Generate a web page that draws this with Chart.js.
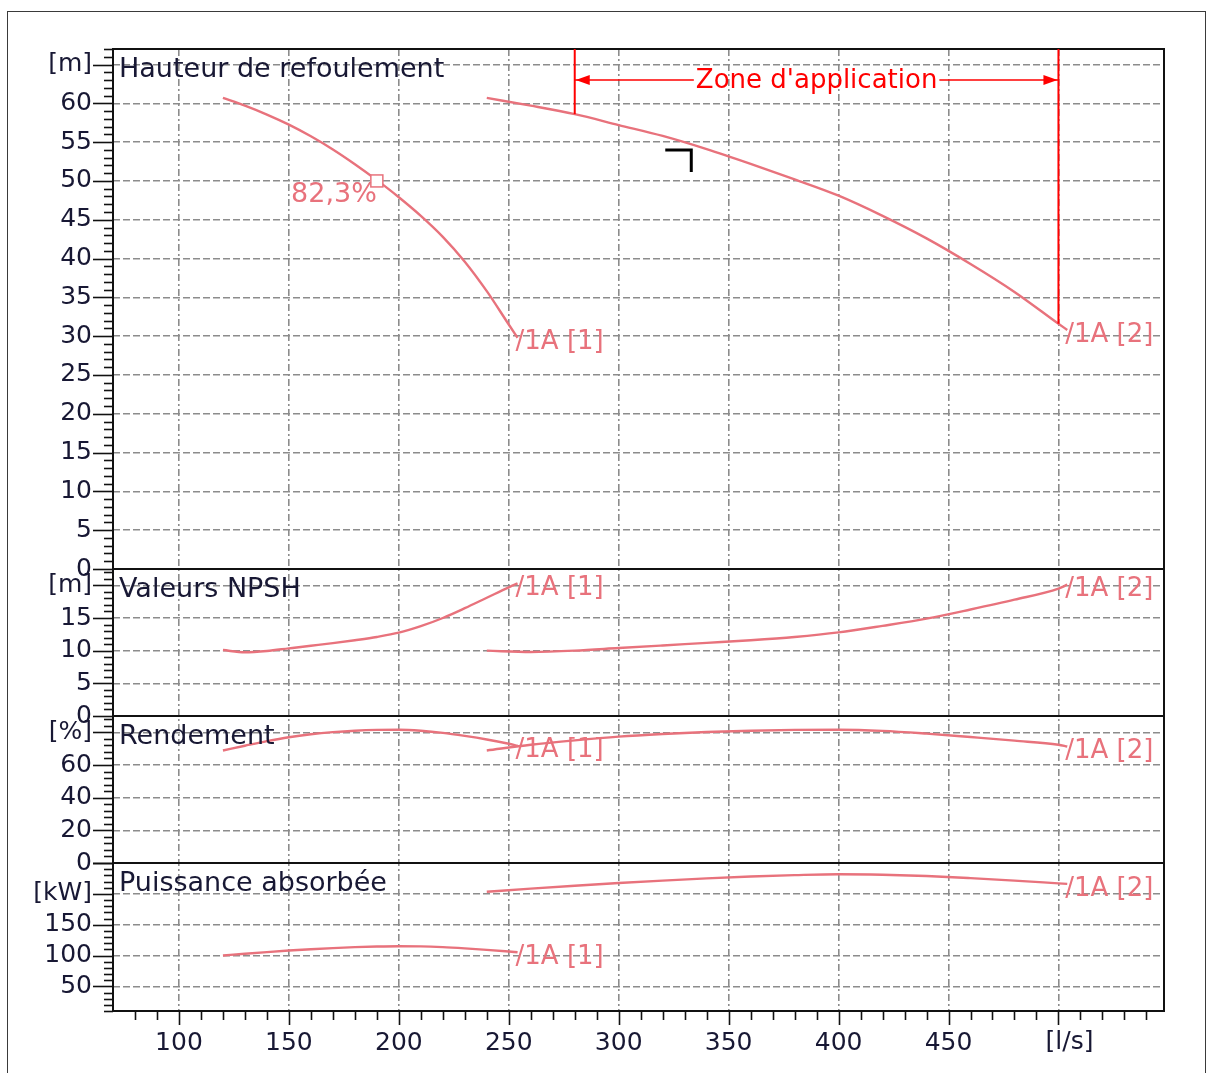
<!DOCTYPE html>
<html>
<head>
<meta charset="utf-8">
<script src="https://cdn.jsdelivr.net/npm/chart.js@4.4.1/dist/chart.umd.min.js"></script>
<style>
  html, body { margin: 0; padding: 0; background: #fff; }
  canvas { display: block; }
</style>
</head>
<body>
<canvas id="pump" width="1214" height="1073"></canvas>
<script>
// debit [l/s] for the two impellers
const q1 = [120, 130, 140, 150, 160, 170, 180, 190, 200, 210, 220, 230, 240, 250, 254];
const q2 = [240, 260, 280, 300, 320, 340, 360, 380, 400, 420, 440, 460, 480, 500, 504];

// hauteur de refoulement [m]
const head1 = [60.7, 59.7, 58.55, 57.25, 55.75, 54.05, 52.15, 50.1, 47.9, 45.5, 42.8, 39.6, 35.8, 31.5, 29.8];
const head2 = [60.7, 59.7, 58.6, 57.2, 55.8, 54.1, 52.2, 50.2, 48.1, 45.5, 42.6, 39.3, 35.7, 31.6, 30.8];

// NPSH [m]
const npsh1 = [10.1, 9.75, 9.95, 10.35, 10.75, 11.15, 11.6, 12.1, 12.75, 13.75, 15.0, 16.5, 18.1, 19.7, 20.3];
const npsh2 = [10.0, 9.8, 10.0, 10.4, 10.8, 11.2, 11.6, 12.1, 12.8, 13.8, 14.9, 16.3, 17.8, 19.5, 20.1];

// rendement [%]
const eff1 = [68.9, 71.8, 74.6, 77.0, 78.8, 80.1, 81.0, 81.5, 81.6, 81.0, 79.7, 77.8, 75.6, 73.0, 71.8];
const eff2 = [68.9, 72.4, 75.1, 77.4, 79.0, 80.2, 81.0, 81.5, 81.6, 80.9, 79.2, 77.1, 74.9, 72.4, 71.3];

// puissance absorbee [kW]
const pow1 = [100, 102.8, 105.5, 108, 110.2, 112, 113.5, 114.5, 115, 114.8, 113.6, 111.6, 109.2, 106.5, 105.3];
const pow2 = [203.3, 208.5, 213.2, 217.5, 221.5, 225.0, 228.0, 230.3, 231.8, 231.0, 228.9, 225.5, 221.5, 217.0, 216.1];

const curveNames = ['/1A [1]', '/1A [2]'];
const xUnit = '[l/s]';
const xUnitAt = 500;
const zoneQ = [280, 500];
const zoneText = "Zone d'application";
const dutyPoint = [190, 50];
const dutyText = '82,3%';
const opPoint = [333, 54];

const panels = [
  { id: 'yH', title: 'Hauteur de refoulement', unit: '[m]', unitAt: 65, min: 0, max: 67, step: 5, minor: 1, h: 520, s1: head1, s2: head2 },
  { id: 'yN', title: 'Valeurs NPSH', unit: '[m]', unitAt: 20, min: 0, max: 22.5, step: 5, minor: 1, h: 147, s1: npsh1, s2: npsh2 },
  { id: 'yE', title: 'Rendement', unit: '[%]', unitAt: 80, min: 0, max: 90, step: 20, minor: 4, h: 147, s1: eff1, s2: eff2 },
  { id: 'yP', title: 'Puissance absorbée', unit: '[kW]', unitAt: 200, min: 10, max: 250, step: 50, minor: 10, h: 148, s1: pow1, s2: pow2 }
];

const curveColor = '#e8727c';
const inkColor = '#181834';
const gridColor = '#8c8c8c';
const font = 'DejaVu Sans';

function pts(xs, ys) {
  return xs.map((x, i) => ({ x: x, y: ys[i] }));
}

function interp(xs, ys, x) {
  for (let i = 1; i < xs.length; i++) {
    if (x <= xs[i]) {
      const t = (x - xs[i - 1]) / (xs[i] - xs[i - 1]);
      return ys[i - 1] + t * (ys[i] - ys[i - 1]);
    }
  }
  return ys[ys.length - 1];
}

const datasets = [];
panels.forEach(p => {
  [[q1, p.s1], [q2, p.s2]].forEach(([xs, ys]) => {
    datasets.push({
      data: pts(xs, ys),
      yAxisID: p.id,
      borderColor: curveColor,
      borderWidth: 2.4,
      pointRadius: 0,
      cubicInterpolationMode: 'monotone',
      fill: false
    });
  });
});

const scales = {
  x: {
    type: 'linear',
    min: 70,
    max: 548,
    afterFit: s => { s.height = 62; },
    ticks: {
      stepSize: 50,
      includeBounds: false,
      autoSkip: false,
      maxRotation: 0,
      padding: 17,
      color: inkColor,
      font: { family: font, size: 25 },
      callback: v => v === xUnitAt ? '' : String(v)
    },
    grid: { color: gridColor, lineWidth: 1.6, drawTicks: false },
    border: { display: false, dash: [7, 3, 2, 3] }
  }
};

panels.forEach((p, i) => {
  scales[p.id] = {
    type: 'linear',
    position: 'left',
    stack: 'panels',
    stackWeight: p.h,
    weight: panels.length - i,
    min: p.min,
    max: p.max,
    afterFit: s => { s.width = 113; },
    ticks: {
      stepSize: p.step,
      includeBounds: false,
      autoSkip: false,
      padding: 21,
      color: inkColor,
      font: { family: font, size: 25 },
      callback: v => v === p.unitAt ? p.unit : (v > p.unitAt ? '' : String(v))
    },
    grid: { color: gridColor, lineWidth: 1.6, drawTicks: false },
    border: { display: false, dash: [7, 3] }
  };
});

function seg(ctx, x1, y1, x2, y2) {
  ctx.beginPath();
  ctx.moveTo(x1, y1);
  ctx.lineTo(x2, y2);
  ctx.stroke();
}

const decor = {
  id: 'decor',
  afterDraw(chart) {
    const ctx = chart.ctx;
    const a = chart.chartArea;
    const sx = chart.scales.x;
    const sH = chart.scales.yH;
    ctx.save();

    // outer frame
    ctx.strokeStyle = '#3a3a3a';
    ctx.lineWidth = 1;
    ctx.strokeRect(7.5, 11.5, 1198, 1100);

    // panel frames
    ctx.strokeStyle = '#111';
    ctx.lineWidth = 2;
    ctx.strokeRect(a.left, a.top, a.right - a.left, a.bottom - a.top);
    panels.forEach(p => {
      const s = chart.scales[p.id];
      seg(ctx, a.left, s.bottom, a.right, s.bottom);
    });

    // y ticks, major and minor
    ctx.lineWidth = 1.6;
    panels.forEach(p => {
      const s = chart.scales[p.id];
      const n = Math.floor((p.max - p.min) / p.minor + 1e-6);
      for (let k = 0; k <= n; k++) {
        const v = p.min + k * p.minor;
        const y = Math.round(s.getPixelForValue(v)) + 0.5;
        const r = v / p.step;
        const major = Math.abs(r - Math.round(r)) < 1e-6;
        seg(ctx, a.left - (major ? 20 : 9), y, a.left, y);
      }
    });

    // x ticks
    for (let v = 80; v <= 540; v += 10) {
      const x = Math.round(sx.getPixelForValue(v)) + 0.5;
      seg(ctx, x, a.bottom, x, a.bottom + (v % 50 === 0 ? 14 : 9));
    }

    // x unit in place of the last label
    ctx.fillStyle = inkColor;
    ctx.font = '25px "' + font + '"';
    ctx.textAlign = 'center';
    ctx.textBaseline = 'middle';
    ctx.fillText(xUnit, sx.getPixelForValue(xUnitAt) + 11, a.bottom + 31);

    // panel titles
    ctx.font = '27px "' + font + '"';
    ctx.textAlign = 'left';
    panels.forEach(p => {
      const s = chart.scales[p.id];
      ctx.fillText(p.title, a.left + 6, s.top + 21);
    });

    // curve end labels
    ctx.fillStyle = curveColor;
    ctx.font = '26px "' + font + '"';
    panels.forEach(p => {
      const s = chart.scales[p.id];
      [[q1, p.s1], [q2, p.s2]].forEach(([xs, ys], j) => {
        const x = sx.getPixelForValue(xs[xs.length - 1]);
        const y = s.getPixelForValue(ys[ys.length - 1]);
        ctx.fillText(curveNames[j], x - 2, y + 5);
      });
    });

    // duty point
    const dx = sx.getPixelForValue(dutyPoint[0]);
    const dy = sH.getPixelForValue(dutyPoint[1]);
    ctx.fillStyle = '#fff';
    ctx.strokeStyle = curveColor;
    ctx.lineWidth = 1.5;
    ctx.fillRect(dx - 6, dy - 6, 12, 12);
    ctx.strokeRect(dx - 6, dy - 6, 12, 12);
    ctx.fillStyle = curveColor;
    ctx.font = '27px "' + font + '"';
    ctx.textAlign = 'right';
    ctx.fillText(dutyText, dx, dy + 14);

    // operating point corner
    const ox = sx.getPixelForValue(opPoint[0]);
    const oy = sH.getPixelForValue(opPoint[1]);
    ctx.strokeStyle = '#000';
    ctx.lineWidth = 3;
    ctx.beginPath();
    ctx.moveTo(ox - 26, oy);
    ctx.lineTo(ox, oy);
    ctx.lineTo(ox, oy + 22);
    ctx.stroke();

    // zone d'application
    const zx1 = sx.getPixelForValue(zoneQ[0]);
    const zx2 = sx.getPixelForValue(zoneQ[1]);
    const zy = sH.getPixelForValue(63);
    ctx.strokeStyle = '#ff0000';
    ctx.fillStyle = '#ff0000';
    ctx.lineWidth = 2;
    seg(ctx, zx1, a.top, zx1, sH.getPixelForValue(interp(q2, head2, zoneQ[0])));
    seg(ctx, zx2, a.top, zx2, sH.getPixelForValue(interp(q2, head2, zoneQ[1])));
    ctx.font = '26px "' + font + '"';
    ctx.textAlign = 'center';
    const mid = (zx1 + zx2) / 2;
    const tw = ctx.measureText(zoneText).width;
    ctx.lineWidth = 1.5;
    seg(ctx, zx1, zy, mid - tw / 2 - 2, zy);
    seg(ctx, mid + tw / 2 + 2, zy, zx2, zy);
    ctx.beginPath();
    ctx.moveTo(zx1 + 1, zy);
    ctx.lineTo(zx1 + 15, zy - 5);
    ctx.lineTo(zx1 + 15, zy + 5);
    ctx.closePath();
    ctx.fill();
    ctx.beginPath();
    ctx.moveTo(zx2 - 1, zy);
    ctx.lineTo(zx2 - 15, zy - 5);
    ctx.lineTo(zx2 - 15, zy + 5);
    ctx.closePath();
    ctx.fill();
    ctx.fillText(zoneText, mid, zy + 1);

    ctx.restore();
  }
};

new Chart(document.getElementById('pump'), {
  type: 'line',
  data: { datasets: datasets },
  options: {
    responsive: false,
    animation: false,
    events: [],
    devicePixelRatio: 1,
    layout: { padding: { left: 0, top: 49, right: 50, bottom: 0 } },
    plugins: { legend: { display: false }, tooltip: { enabled: false } },
    scales: scales
  },
  plugins: [decor]
});
</script>
</body>
</html>
